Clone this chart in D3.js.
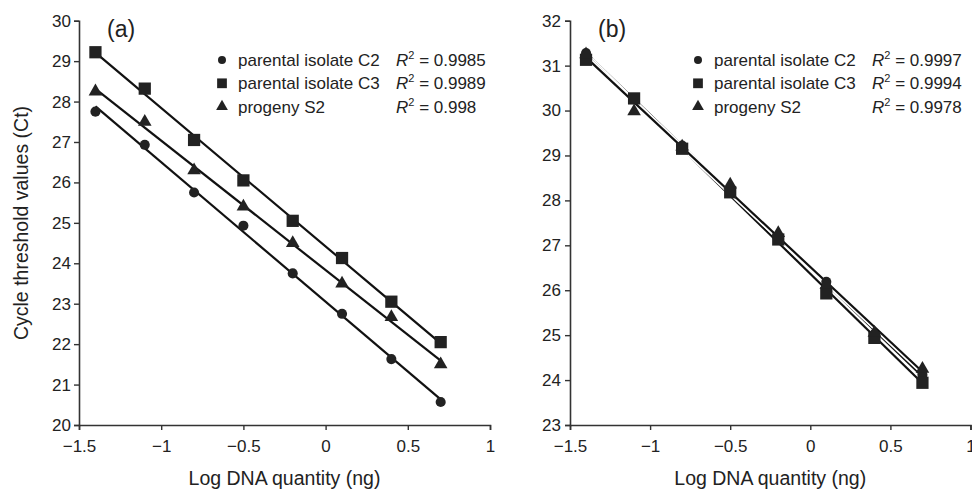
<!DOCTYPE html>
<html>
<head>
<meta charset="utf-8">
<title>Ct vs log DNA quantity</title>
<script src="https://cdn.jsdelivr.net/npm/d3@7"></script>
<style>
  body { margin: 0; background: #fff; }
  text { font-family: "Liberation Sans", Arial, sans-serif; fill: #222; }
</style>
</head>
<body>
<div id="chart"></div>
<script>
// values
const logQty = [-1.4, -1.1, -0.8, -0.5, -0.2, 0.1, 0.4, 0.7];
const seriesNames = ["parental isolate C2", "parental isolate C3", "progeny S2"];

// panel (a)
const ctA_C2 = [27.75, 26.93, 25.75, 24.93, 23.75, 22.75, 21.63, 20.57];
const ctA_C3 = [29.22, 28.32, 27.05, 26.05, 25.05, 24.13, 23.05, 22.05];
const ctA_S2 = [28.25, 27.50, 26.30, 25.40, 24.50, 23.50, 22.67, 21.50];
const r2A = ["0.9985", "0.9989", "0.998"];

// panel (b)
const ctB_C2 = [31.28, 30.25, 29.22, 28.20, 27.18, 26.19, 25.02, 24.12];
const ctB_C3 = [31.13, 30.27, 29.15, 28.18, 27.13, 25.93, 24.94, 23.94];
const ctB_S2 = [31.25, 29.98, 29.20, 28.35, 27.27, 26.12, 25.05, 24.25];
const r2B = ["0.9997", "0.9994", "0.9978"];

const xTicks = [-1.5, -1, -0.5, 0, 0.5, 1];
const yTicksA = d3.range(20, 31);
const yTicksB = d3.range(23, 33);

const W = 972, H = 491;
const symbols = [d3.symbolCircle, d3.symbolSquare, d3.symbolTriangle];
const markSize = [80, 150, 80];
const legSize = [50, 95, 60];
const ink = "#222";

const svg = d3.select("#chart").append("svg")
    .attr("width", W)
    .attr("height", H);

// least squares line through the points
function fit(xs, ys) {
    const mx = d3.mean(xs), my = d3.mean(ys);
    let sxy = 0, sxx = 0;
    xs.forEach(function(x, i) { sxy += (x - mx) * (ys[i] - my); sxx += (x - mx) * (x - mx); });
    const b = sxy / sxx;
    return function(x) { return my + b * (x - mx); };
}

function drawPanel(p) {
    const x = d3.scaleLinear().domain([-1.5, 1]).range([p.x0, p.x1]);
    const y = d3.scaleLinear().domain(p.yDomain).range([425, 20.7]);
    const g = svg.append("g");

    // axes
    const xAxis = g.append("g")
        .attr("transform", "translate(0,425)")
        .call(d3.axisBottom(x).tickValues(xTicks).tickSize(5).tickPadding(10)
            .tickFormat(d3.format("")));
    const yAxis = g.append("g")
        .attr("transform", "translate(" + p.x0 + ",0)")
        .call(d3.axisLeft(y).tickValues(p.yTicks).tickSize(5).tickPadding(p.yPad)
            .tickFormat(d3.format("d")));
    [xAxis, yAxis].forEach(function(a) {
        a.select(".domain").attr("stroke", "#333").attr("stroke-width", 1.6);
        a.selectAll(".tick line").attr("stroke", "#333").attr("stroke-width", 1.4);
        a.selectAll(".tick text").style("font-size", "17px").attr("fill", ink);
    });

    // fitted lines
    const line = d3.line().x(function(d) { return x(d[0]); }).y(function(d) { return y(d[1]); });
    p.series.forEach(function(ys) {
        const f = fit(logQty, ys);
        const ends = [[logQty[0], f(logQty[0])], [logQty[logQty.length - 1], f(logQty[logQty.length - 1])]];
        if (p.halo) {
            g.append("path").attr("d", line(ends))
                .attr("fill", "none").attr("stroke", "#fff").attr("stroke-width", 5.5);
        }
        g.append("path").attr("d", line(ends))
            .attr("fill", "none").attr("stroke", "#111").attr("stroke-width", 2.2);
    });

    // markers
    p.series.forEach(function(ys, s) {
        g.selectAll(null).data(ys).enter().append("path")
            .attr("d", d3.symbol().type(symbols[s]).size(markSize[s]))
            .attr("transform", function(d, i) { return "translate(" + x(logQty[i]) + "," + y(d) + ")"; })
            .attr("fill", ink);
    });

    // panel label
    g.append("text")
        .attr("x", p.labelX).attr("y", 37)
        .style("font-size", "23px")
        .text(p.label);

    // legend
    seriesNames.forEach(function(name, s) {
        const cy = 60 + s * 23.3;
        g.append("path")
            .attr("d", d3.symbol().type(symbols[s]).size(legSize[s]))
            .attr("transform", "translate(" + p.legX + "," + cy + ")")
            .attr("fill", ink);
        g.append("text")
            .attr("x", p.legX + 16).attr("y", cy + 6)
            .style("font-size", "17px")
            .text(name);
        const r = g.append("text")
            .attr("x", p.legX + 174).attr("y", cy + 6)
            .style("font-size", "17px");
        r.append("tspan").style("font-style", "italic").text("R");
        r.append("tspan").attr("dy", -7).style("font-size", "11px").text("2");
        r.append("tspan").attr("dy", 7).text(" = " + p.r2[s]);
    });

    // x axis title
    g.append("text")
        .attr("x", (p.x0 + p.x1) / 2).attr("y", 485)
        .attr("text-anchor", "middle")
        .style("font-size", "19.5px")
        .text("Log DNA quantity (ng)");
}

drawPanel({
    x0: 79, x1: 490, yDomain: [20, 30], yTicks: yTicksA, yPad: 3,
    series: [ctA_C2, ctA_C3, ctA_S2], r2: r2A, halo: false,
    label: "(a)", labelX: 107, legX: 222
});
drawPanel({
    x0: 570, x1: 970.5, yDomain: [23, 32], yTicks: yTicksB, yPad: 4,
    series: [ctB_C2, ctB_C3, ctB_S2], r2: r2B, halo: true,
    label: "(b)", labelX: 598, legX: 698
});

svg.append("text")
    .attr("transform", "translate(28,223) rotate(-90)")
    .attr("text-anchor", "middle")
    .style("font-size", "19.5px")
    .text("Cycle threshold values (Ct)");
</script>
</body>
</html>
